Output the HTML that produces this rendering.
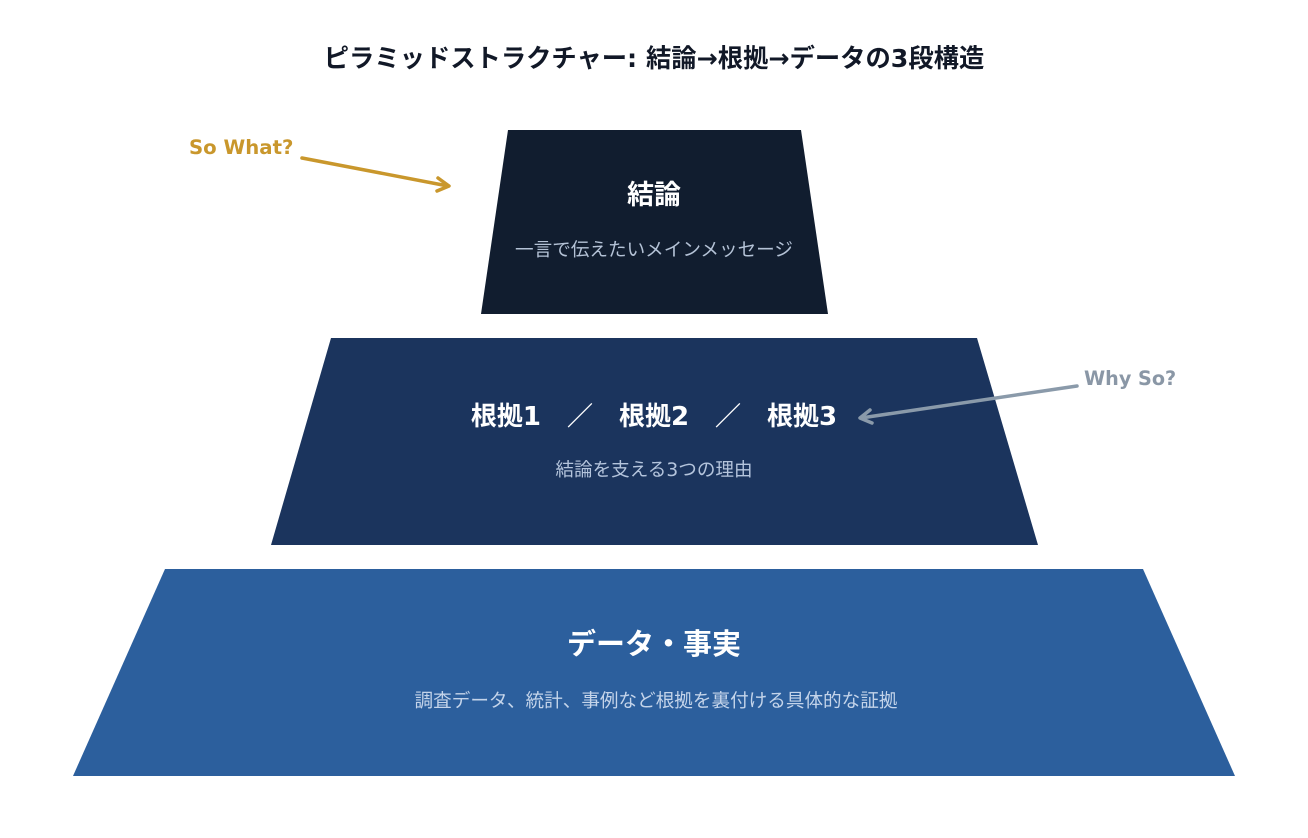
<!DOCTYPE html>
<html><head><meta charset="utf-8"><style>
html,body{margin:0;padding:0;background:#fff;}
svg{display:block;}
text{font-family:"DejaVu Sans","Noto Sans CJK JP",sans-serif;}
</style></head><body>
<svg width="1308" height="838" viewBox="0 0 1308 838" xmlns="http://www.w3.org/2000/svg">
<text x="654" y="67" text-anchor="middle" font-size="25.3" font-weight="bold" fill="#111827">ピラミッドストラクチャー: 結論→根拠→データの3段構造</text>
<polygon points="508,130 801,130 828,314 481,314" fill="#111d2f"/>
<polygon points="331,338 977,338 1038,545 271,545" fill="#1b345d"/>
<polygon points="165,569 1143,569 1235,776 73,776" fill="#2c5f9d"/>
<text x="654" y="204" text-anchor="middle" font-size="27" font-weight="bold" fill="#fff">結論</text>
<text x="654" y="256" text-anchor="middle" font-size="18.6" fill="#b4c2d6">一言で伝えたいメインメッセージ</text>
<text x="654" y="425" text-anchor="middle" font-size="26" font-weight="bold" fill="#fff" xml:space="preserve">根拠1　／　根拠2　／　根拠3</text>
<text x="654" y="476" text-anchor="middle" font-size="18.6" fill="#b4c4dc">結論を支える3つの理由</text>
<text x="654" y="654" text-anchor="middle" font-size="29" font-weight="bold" fill="#fff">データ・事実</text>
<text x="656" y="707" text-anchor="middle" font-size="18.6" fill="#c4d4ea">調査データ、統計、事例など根拠を裏付ける具体的な証拠</text>
<text x="189" y="154" font-size="19.7" font-weight="bold" fill="#c9972c">So What?</text>
<line x1="302" y1="158" x2="448" y2="186" stroke="#c9972c" stroke-width="3.5" stroke-linecap="round"/>
<polyline points="438,178 449,186 437,191" fill="none" stroke="#c9972c" stroke-width="3.5" stroke-linecap="round" stroke-linejoin="round"/>
<text x="1084" y="385" font-size="19.2" font-weight="bold" fill="#8a97a6">Why So?</text>
<line x1="1077" y1="386" x2="861" y2="418" stroke="#8a9aaa" stroke-width="3.5" stroke-linecap="round"/>
<polyline points="870,410 860,418 872,423" fill="none" stroke="#8a9aaa" stroke-width="3.5" stroke-linecap="round" stroke-linejoin="round"/>
</svg>
</body></html>
